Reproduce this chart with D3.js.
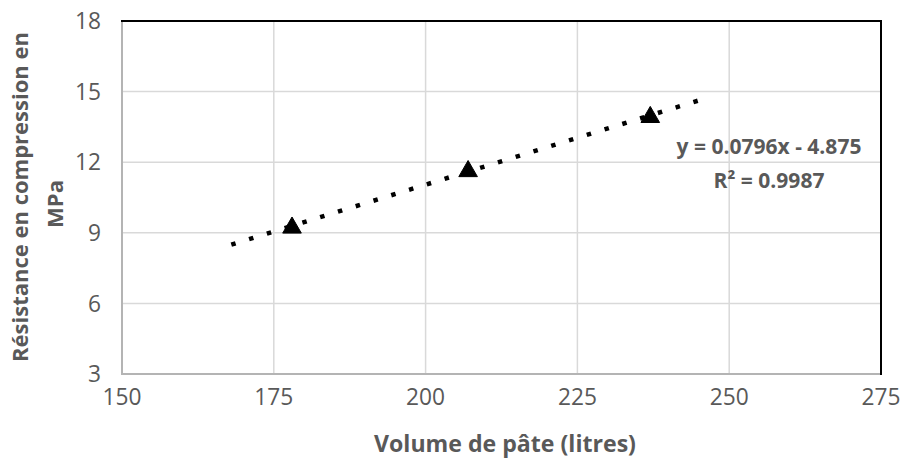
<!DOCTYPE html>
<html><head><meta charset="utf-8">
<script src="https://cdn.jsdelivr.net/npm/d3@7"></script>
<style>body{margin:0;background:#fff}svg{display:block}</style>
</head><body><svg id="c" width="904" height="458"></svg>
<script>
const volumes = [178, 207, 237];
const strengths = [9.3, 11.7, 14.0];
const xTicks = [150, 175, 200, 225, 250, 275];
const yTicks = [3, 6, 9, 12, 15, 18];
const trendSlope = 0.0796, trendIntercept = -4.875;
const trendRange = [168, 245];
const eqLines = ["y = 0.0796x - 4.875", "R² = 0.9987"];
const xTitle = "Volume de pâte (litres)";
const yTitle = ["Résistance en compression en", "MPa"];

const svg = d3.select("#c");
const L = 122, R = 881, T = 21, B = 374;
const x = d3.scaleLinear().domain([150, 275]).range([L, R]);
const y = d3.scaleLinear().domain([3, 18]).range([B, T]);
const font = "'Open Sans', sans-serif";
const gray = "#595959";

function fit(sel, target) {
  const node = sel.node();
  const fs = parseFloat(sel.attr("font-size"));
  const w = node.getComputedTextLength();
  const nfs = fs * target / w;
  sel.attr("font-size", nfs);
  return nfs;
}

// gridlines
svg.append("g").selectAll("line").data(xTicks.slice(1, -1)).join("line")
  .attr("x1", d => x(d)).attr("x2", d => x(d)).attr("y1", T).attr("y2", B)
  .attr("stroke", "#d9d9d9").attr("stroke-width", 1.5);
svg.append("g").selectAll("line").data(yTicks.slice(1, -1)).join("line")
  .attr("y1", d => y(d)).attr("y2", d => y(d)).attr("x1", L).attr("x2", R)
  .attr("stroke", "#d9d9d9").attr("stroke-width", 1.5);

// axes lines
svg.append("line").attr("x1", L).attr("x2", L).attr("y1", T).attr("y2", B + 1)
  .attr("stroke", "#b4b4b4").attr("stroke-width", 2);
svg.append("line").attr("x1", L).attr("x2", R).attr("y1", B).attr("y2", B)
  .attr("stroke", "#b4b4b4").attr("stroke-width", 2);
svg.append("line").attr("x1", L - 1).attr("x2", R + 1).attr("y1", T).attr("y2", T)
  .attr("stroke", "#000").attr("stroke-width", 2);
svg.append("line").attr("x1", R).attr("x2", R).attr("y1", T).attr("y2", B + 1)
  .attr("stroke", "#000").attr("stroke-width", 2);

// tick labels
const xt = svg.append("g").selectAll("text").data(xTicks).join("text")
  .attr("x", d => x(d)).attr("y", 405).attr("text-anchor", "middle")
  .attr("font-family", font).attr("font-size", 21).attr("fill", gray).text(d => d);
const tfs = fit(xt.filter((d, i) => i === 0), 39);
xt.attr("font-size", tfs);
svg.append("g").selectAll("text").data(yTicks).join("text")
  .attr("x", 101).attr("y", d => y(d)).attr("dy", "0.36em").attr("text-anchor", "end")
  .attr("font-family", font).attr("font-size", tfs).attr("fill", gray).text(d => d);

// axis titles
const xtt = svg.append("text").attr("x", 505).attr("y", 452).attr("text-anchor", "middle")
  .attr("font-family", font).attr("font-weight", "bold").attr("font-size", 21)
  .attr("fill", gray).text(xTitle);
fit(xtt, 262);
const yt = svg.append("text").attr("transform", "translate(0,197) rotate(-90)")
  .attr("text-anchor", "middle").attr("font-family", font).attr("font-weight", "bold")
  .attr("font-size", 21).attr("fill", gray);
const t1 = yt.append("tspan").attr("x", 0).attr("y", 28).text(yTitle[0]);
yt.append("tspan").attr("x", -7).attr("y", 63).text(yTitle[1]);
{
  const w = t1.node().getComputedTextLength();
  yt.attr("font-size", 21 * 330 / w);
}

// trendline
const tl = d3.line().x(d => x(d)).y(d => y(trendSlope * d + trendIntercept));
svg.append("path").datum(trendRange).attr("d", tl).attr("fill", "none")
  .attr("stroke", "#000").attr("stroke-width", 4.5).attr("stroke-dasharray", "4.5,14.1");

// markers
svg.append("g").selectAll("path").data(volumes).join("path")
  .attr("transform", (d, i) => `translate(${x(d)},${y(strengths[i]) + 2})`)
  .attr("d", d3.symbol(d3.symbolTriangle, 150))
  .attr("fill", "#000").attr("stroke", "#000").attr("stroke-width", 1);

// equation
const eq = svg.append("g").selectAll("text").data(eqLines).join("text")
  .attr("x", 769).attr("y", (d, i) => i === 0 ? 154 : 188).attr("text-anchor", "middle")
  .attr("font-family", font).attr("font-weight", "bold").attr("font-size", 21)
  .attr("fill", gray).text(d => d);
fit(eq.filter((d, i) => i === 0), 185);
eq.filter((d, i) => i === 1).attr("font-size", eq.filter((d, i) => i === 0).attr("font-size"));
</script></body></html>
